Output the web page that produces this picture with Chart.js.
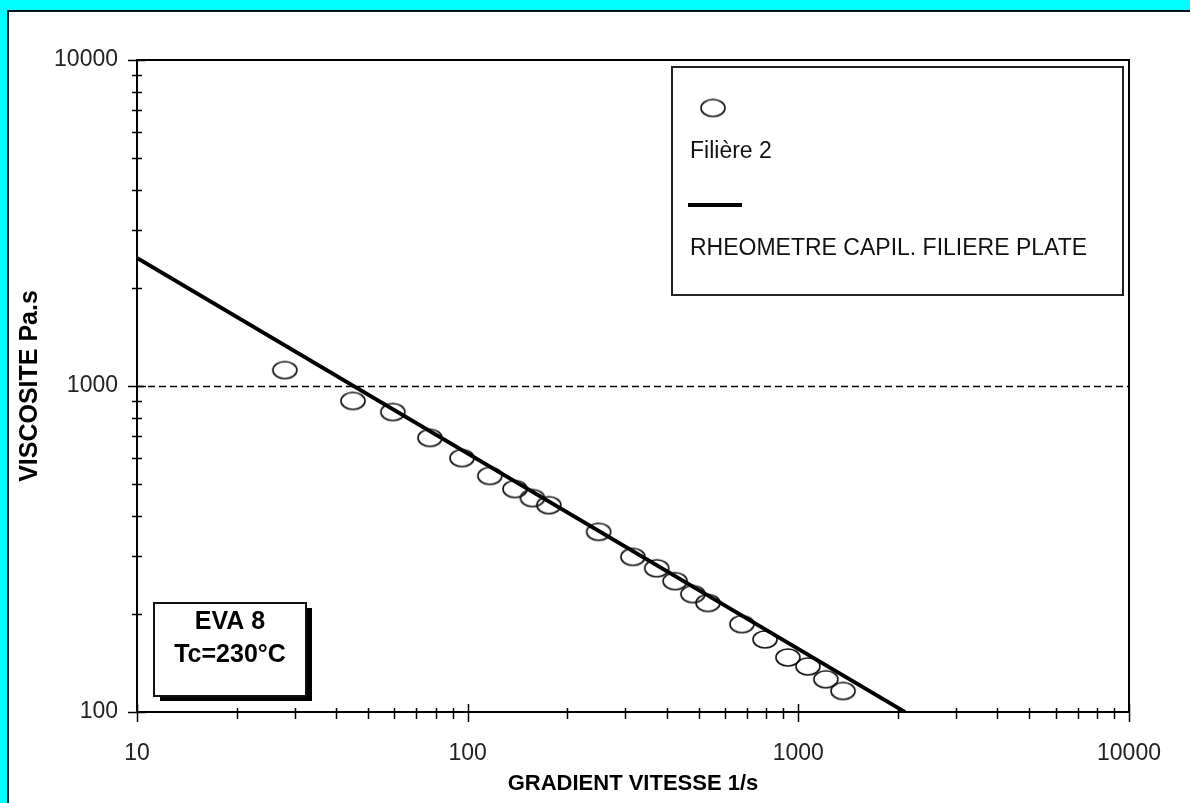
<!DOCTYPE html>
<html><head><meta charset="utf-8">
<script src="https://cdn.jsdelivr.net/npm/chart.js@4.4.1/dist/chart.umd.min.js"></script>
<style>
html,body{margin:0;padding:0;background:#00FFFF;width:1190px;height:803px;overflow:hidden;}
#panel{position:absolute;left:7px;top:10px;width:1181px;height:791px;background:#fff;border-left:2px solid #061414;border-top:2px solid #061414;}
#c{position:absolute;left:0;top:0;}
</style></head><body>
<div id="panel"></div>
<canvas id="c" width="1190" height="803"></canvas>
<script>
// ---- data ----
const shearRate = [28.0, 45.0, 59.4, 76.9, 96.1, 116.7, 139, 157, 176, 249, 316, 373, 424, 480, 533, 675, 793, 930, 1069, 1211, 1365];
const viscosity = [1119, 900, 832, 693, 601, 530, 483, 453, 431, 357, 299, 276, 252, 230, 216, 186, 167, 147, 138, 126, 116];
const fitShear = [10, 2100];
const fitVisc = [2470, 100];
const xTicks = [10, 100, 1000, 10000];
const yTicks = [100, 1000, 10000];
const xTickLabels = ['10', '100', '1000', '10000'];
const yTickLabels = ['100', '1000', '10000'];
const seriesNames = ['Filière 2', 'RHEOMETRE CAPIL. FILIERE PLATE'];
const boxLines = ['EVA 8', 'Tc=230°C'];
const xTitle = 'GRADIENT VITESSE 1/s';
const yTitle = 'VISCOSITE Pa.s';

const FONT = '"Liberation Sans", Arial, sans-serif';

function ellipseMarker(w, h) {
  const c = document.createElement('canvas');
  c.width = w + 4; c.height = h + 4;
  const g = c.getContext('2d');
  g.strokeStyle = '#111'; g.lineWidth = 1.6;
  g.beginPath();
  g.ellipse(c.width / 2, c.height / 2, w / 2, h / 2, 0, 0, 2 * Math.PI);
  g.stroke();
  return c;
}
const marker = ellipseMarker(24, 17);

function seg(ctx, x1, y1, x2, y2) { ctx.beginPath(); ctx.moveTo(x1, y1); ctx.lineTo(x2, y2); ctx.stroke(); }

const decor = {
  id: 'decor',
  beforeDatasetsDraw(chart) {
    const { ctx, chartArea: a, scales: { x, y } } = chart;
    ctx.save();
    ctx.strokeStyle = '#000';
    // dashed gridline at inner major y ticks
    ctx.lineWidth = 1.5; ctx.setLineDash([7, 4]);
    yTicks.slice(1, -1).forEach(v => { const py = Math.round(y.getPixelForValue(v)) + 0.5; seg(ctx, a.left, py, a.right, py); });
    ctx.setLineDash([]);
    // frame
    ctx.lineWidth = 2;
    ctx.strokeRect(a.left, a.top, a.right - a.left, a.bottom - a.top);
    // y ticks
    ctx.lineWidth = 1.5;
    for (let i = 0; i < yTicks.length; i++) {
      const py = Math.round(y.getPixelForValue(yTicks[i])) + 0.5;
      seg(ctx, a.left - 9, py, a.left + 9, py);
      if (i < yTicks.length - 1) {
        for (let k = 2; k <= 9; k++) {
          const q = Math.round(y.getPixelForValue(yTicks[i] * k)) + 0.5;
          seg(ctx, a.left - 5, q, a.left + 5, q);
        }
      }
    }
    // x ticks
    for (let i = 0; i < xTicks.length; i++) {
      const px = Math.round(x.getPixelForValue(xTicks[i])) + 0.5;
      seg(ctx, px, a.bottom - 8, px, a.bottom + 10);
      if (i < xTicks.length - 1) {
        for (let k = 2; k <= 9; k++) {
          const q = Math.round(x.getPixelForValue(xTicks[i] * k)) + 0.5;
          seg(ctx, q, a.bottom - 4, q, a.bottom + 7);
        }
      }
    }
    ctx.restore();
  },
  afterDraw(chart) {
    const ctx = chart.ctx;
    ctx.save();
    // legend box
    ctx.strokeStyle = '#222'; ctx.lineWidth = 2;
    ctx.fillStyle = '#fff';
    ctx.fillRect(672, 67, 451, 228);
    ctx.strokeRect(672, 67, 451, 228);
    ctx.drawImage(marker, 713 - marker.width / 2, 108 - marker.height / 2);
    ctx.fillStyle = '#111';
    ctx.font = '23px ' + FONT;
    ctx.textBaseline = 'alphabetic'; ctx.textAlign = 'left';
    ctx.fillText(seriesNames[0], 690, 158);
    ctx.strokeStyle = '#000'; ctx.lineWidth = 4;
    seg(ctx, 688, 205, 742, 205);
    ctx.fillText(seriesNames[1], 690, 255);
    // text box with shadow
    ctx.fillStyle = '#000';
    ctx.fillRect(160, 608, 152, 93);
    ctx.fillStyle = '#fff';
    ctx.fillRect(154, 603, 152, 93);
    ctx.strokeStyle = '#111'; ctx.lineWidth = 2;
    ctx.strokeRect(154, 603, 152, 93);
    ctx.fillStyle = '#000';
    ctx.font = 'bold 25px ' + FONT;
    ctx.textAlign = 'center';
    ctx.fillText(boxLines[0], 230, 629);
    ctx.fillText(boxLines[1], 230, 662);
    ctx.restore();
  }
};

new Chart(document.getElementById('c'), {
  type: 'scatter',
  data: {
    datasets: [
      {
        label: seriesNames[1],
        data: fitShear.map((v, i) => ({ x: v, y: fitVisc[i] })),
        showLine: true, borderColor: '#000', borderWidth: 3.8, pointRadius: 0,
        order: 0
      },
      {
        label: seriesNames[0],
        data: shearRate.map((v, i) => ({ x: v, y: viscosity[i] })),
        showLine: false, pointStyle: marker, pointRadius: 10,
        order: 1
      }
    ]
  },
  options: {
    responsive: false, animation: false, devicePixelRatio: 1,
    layout: { padding: { top: 60, right: 61, left: 0, bottom: 0 } },
    plugins: { legend: { display: false }, tooltip: { enabled: false } },
    scales: {
      x: {
        type: 'logarithmic', position: 'bottom', min: 10, max: 10000,
        afterBuildTicks: s => { s.ticks = xTicks.map(v => ({ value: v })); },
        afterFit: s => { s.height = 91; },
        ticks: {
          autoSkip: false, maxRotation: 0, padding: 28, color: '#222',
          font: { family: FONT, size: 23 },
          callback: (v) => { const i = xTicks.indexOf(v); return i >= 0 ? xTickLabels[i] : ''; }
        },
        grid: { display: false, drawTicks: false }, border: { display: false },
        title: { display: true, text: xTitle, color: '#000', font: { family: FONT, size: 22, weight: 'bold' }, padding: { top: 0, bottom: 6 } }
      },
      y: {
        type: 'logarithmic', position: 'left', min: 100, max: 10000,
        afterBuildTicks: s => { s.ticks = yTicks.map(v => ({ value: v })); },
        afterFit: s => { s.width = 137; },
        ticks: {
          autoSkip: false, padding: 19, color: '#222',
          font: { family: FONT, size: 23 },
          callback: (v) => { const i = yTicks.indexOf(v); return i >= 0 ? yTickLabels[i] : ''; }
        },
        grid: { display: false, drawTicks: false }, border: { display: false },
        title: { display: true, text: yTitle, color: '#000', font: { family: FONT, size: 25, weight: 'bold' }, padding: { top: 15, bottom: 0 } }
      }
    }
  },
  plugins: [decor]
});
</script>
</body></html>
